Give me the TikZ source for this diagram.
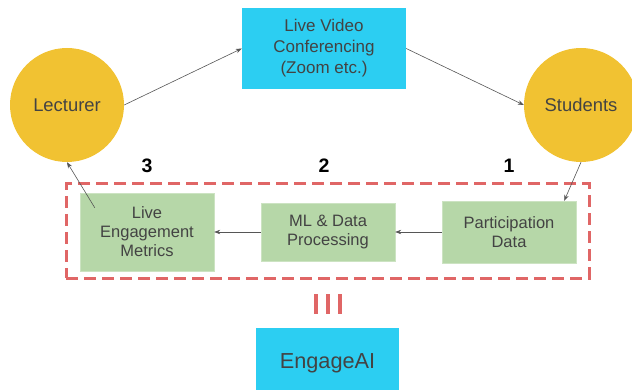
\documentclass[tikz,border=0pt]{standalone}
\usepackage{fontspec}
\setmainfont{Liberation Sans}
\usetikzlibrary{shapes.geometric, arrows.meta, positioning, calc}
\definecolor{sunyellow}{HTML}{F1C232}
\definecolor{zoomcyan}{HTML}{2CCEF2}
\definecolor{sagegreen}{HTML}{B6D7A8}
\definecolor{dashred}{HTML}{E06666}
\definecolor{inkgray}{HTML}{434343}
\tikzstyle{flow} = [draw=inkgray!90, line width=0.6pt, -{Stealth[length=6pt,width=4.5pt]}]

\begin{document}
\begin{tikzpicture}[x=1pt, y=-1pt,
    person/.style={circle, fill=sunyellow, minimum size=114pt, text=inkgray, font=\fontsize{18.4}{21}\selectfont},
    cyanbox/.style={rectangle, fill=zoomcyan, text=inkgray, align=center, font=\fontsize{17}{21}\selectfont},
    stagebox/.style={rectangle, fill=sagegreen, draw=sagegreen!70!white, minimum width=134pt, text=inkgray, align=center, font=\fontsize{16.5}{19}\selectfont},
    stepnum/.style={font=\bfseries\fontsize{19.5}{21}\selectfont},
]
\useasboundingbox (0,0) rectangle (632,390);

% People
\node[person] (lecturer) at (67,105) {Lecturer};
\node[person] (students) at (581,105) {Students};

% Conferencing tool
\node[cyanbox, minimum width=164pt, minimum height=81pt] (video) at (324,48.5) {Live Video\\Conferencing\\(Zoom etc.)};

% Step numbers
\node[stepnum] (n3) at (147,166) {3};
\node[stepnum] (n2) at (324,166) {2};
\node[stepnum] (n1) at (509,166) {1};

% Pipeline stages
\node[stagebox, minimum height=78pt] (metrics) at (147,232) {Live\\Engagement\\Metrics};
\node[stagebox, minimum height=58pt] (ml) at (328,232) {ML \& Data\\Processing};
\node[stagebox, minimum height=62pt] (part) at (509,232) {Participation\\Data};

% Dashed frame round the pipeline
\node[draw=dashred, line width=3pt, dash pattern=on 12pt off 6pt, minimum width=523pt, minimum height=94pt] (frame) at (327.5,231) {};

% Equals sign
\foreach \xx [count=\i] in {316,328,340}
  \draw[dashred, line width=3.5pt] (\xx,294) -- (\xx,314);

% Product
\node[cyanbox, minimum width=143pt, minimum height=70pt, font=\fontsize{21.7}{24}\selectfont] (engage) at (327.5,363) {EngageAI};

% Arrows
\coordinate (partin) at ($(part.north east)+(-12,0)$);
\coordinate (metricsout) at ($(metrics.north west)+(15,15)$);
\draw[flow] (lecturer.east) -- (video.west);
\draw[flow] (video.east) -- (students.west);
\draw[flow] (students.south) -- (partin);
\draw[flow] (part.west) -- (ml.east);
\draw[flow] (ml.west) -- (metrics.east);
\draw[flow] (metricsout) -- (lecturer.south);

\end{tikzpicture}
\end{document}
